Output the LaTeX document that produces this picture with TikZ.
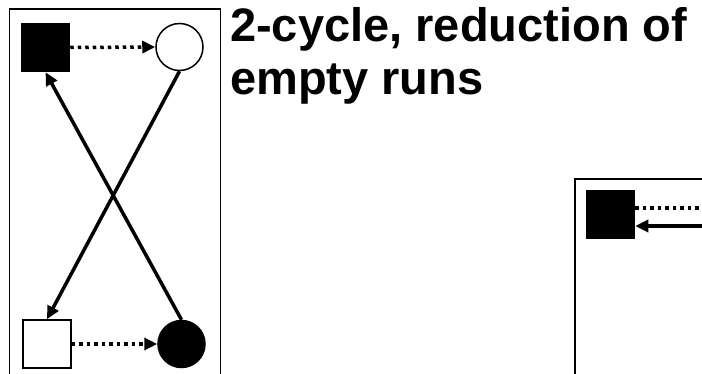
\documentclass[tikz,border=0pt]{standalone}
\usepackage{fontspec}
\setmainfont{Liberation Sans}
\usepackage{tikz}
\usetikzlibrary{arrows.meta}

\begin{document}
\begin{tikzpicture}[
    x=1pt, y=-1pt,
    box/.style={draw=black, line width=1.5pt},
    sq/.style={rectangle, draw=black, line width=1.5pt, minimum size=48pt, inner sep=0pt},
    circ/.style={circle, draw=black, line width=1.5pt, minimum size=47pt, inner sep=0pt},
    jump/.style={-{Triangle[length=13pt,width=12pt]}, line width=3.5pt},
    pass/.style={-{Triangle[length=13pt,width=12pt]}, line width=3.5pt, dash pattern=on 3.5pt off 4pt}
]
\useasboundingbox (0,0) rectangle (702,374);

% left panel
\draw[box] (9.5,9) rectangle (220.5,390);
\node (blksq) [sq, fill=black] at (45.5,47.5) {};
\node (whtcirc) [circ, fill=white] at (179.5,47) {};
\node (whtsq) [sq, fill=white] at (47,344) {};
\node (blkcirc) [circ, fill=black] at (181.5,344) {};

\draw[pass] (blksq.east) -- (whtcirc.west);
\draw[pass] (whtsq.east) -- (blkcirc.west);
\draw[jump] (whtcirc.south) -- (whtsq.north);
\draw[jump] (blkcirc.north) -- (blksq.south);

% title
\node (titleA) [anchor=base west, inner sep=0pt, font=\fontsize{47}{53}\selectfont\bfseries] at (230,42) {2-cycle, reduction of};
\node (titleB) [anchor=base west, inner sep=0pt, font=\fontsize{47}{53}\selectfont\bfseries] at (230,95) {empty runs};

% right panel
\draw[box] (575,179) rectangle (720,390);
\node (rblk) [sq, fill=black] at (610.5,214.5) {};
\coordinate (offA) at (712,208);
\coordinate (offB) at (712,226);
\draw[pass, -] ([yshift=6.5pt]rblk.east) -- (offA);
\draw[jump] (offB) -- ([yshift=-11.5pt]rblk.east);
\end{tikzpicture}
\end{document}
